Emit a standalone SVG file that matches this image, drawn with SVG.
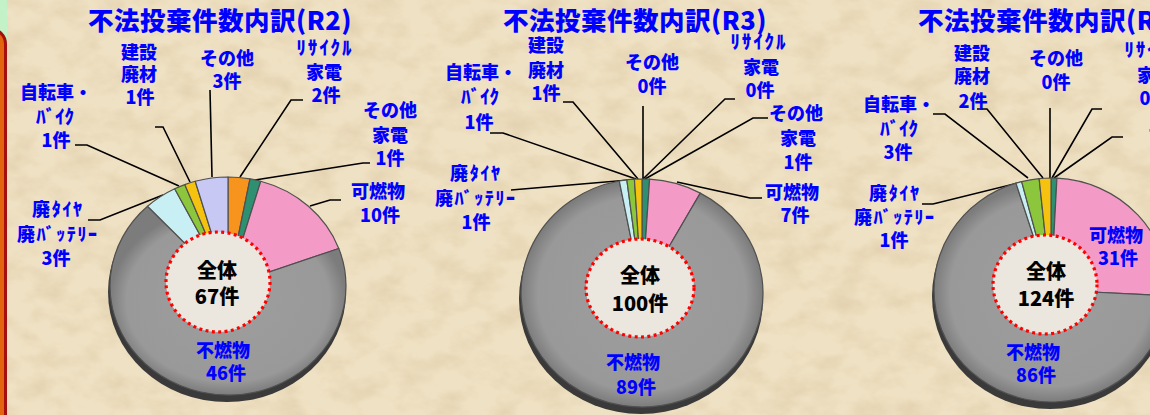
<svg xmlns="http://www.w3.org/2000/svg" width="1150" height="415" viewBox="0 0 1150 415">
<defs>
<style>
.lbl{font-family:'Noto Sans CJK JP','Noto Sans',sans-serif;font-size:18px;font-weight:900;fill:#0000ff;text-anchor:middle}
.kt{font-size:19px}
.ttl{font-family:'Noto Sans CJK JP','Noto Sans',sans-serif;font-size:25.5px;font-weight:900;fill:#0000ff;letter-spacing:0.5px}
.ctr{font-family:'Noto Sans CJK JP','Noto Sans',sans-serif;font-size:20px;font-weight:900;fill:#000;text-anchor:middle}
.sl{stroke:#505050;stroke-width:1.2;stroke-linejoin:round}
.conn polyline{fill:none;stroke:#000;stroke-width:1.6}
.hole{fill:#ebe6de;stroke:#ff0000;stroke-width:3.2;stroke-dasharray:3 3.4}
.shadow{fill:#3a3a3a}
.c-or{fill:#f7941d}.c-te{fill:#2e9070}.c-pk{fill:#f49ac6}.c-gr{fill:url(#greyg)}
.c-cy{fill:#c8f0f4}.c-gn{fill:#8cc63c}.c-ye{fill:#f5c20f}.c-lv{fill:#c8c8f4}
</style>
<radialGradient id="greyg" cx="0.5" cy="0.5" r="0.5">
<stop offset="0" stop-color="#9e9e9e"/><stop offset="0.86" stop-color="#999"/><stop offset="1" stop-color="#7c7c7c"/>
</radialGradient>
<filter id="paper" x="0" y="0" width="100%" height="100%">
<feTurbulence type="fractalNoise" baseFrequency="0.03 0.045" numOctaves="4" seed="7"/>
<feColorMatrix type="matrix" values="0 0 0 0 0.62  0 0 0 0 0.48  0 0 0 0 0.28  0.75 0 0 0 -0.3"/>
</filter>
</defs>

<g id="background">
<rect x="0" y="0" width="1150" height="415" fill="#efe1c3"/>
<rect x="0" y="0" width="1150" height="415" filter="url(#paper)"/>
<rect x="0" y="0" width="7" height="60" fill="#c4f2c8"/>
<rect x="-30" y="29" width="35.5" height="420" rx="15" fill="#e2640e" stroke="#a60f0f" stroke-width="3"/>
</g>

<g id="titles">
<text class="ttl" x="88" y="30">不法投棄件数内訳(R2)</text>
<text class="ttl" x="503" y="30">不法投棄件数内訳(R3)</text>
<text class="ttl" x="918" y="30">不法投棄件数内訳(R</text>
</g>

<g id="connectors" class="conn">
<polyline points="75,145 87,145 179,186"/>
<polyline points="155,127 163,127 190,182"/>
<polyline points="210,90 212,177"/>
<polyline points="303,100 291,100 240,177"/>
<polyline points="370,163 363,163 255,180"/>
<polyline points="341,200 330,200 310,206"/>
<polyline points="88,220 100,220 163,195"/>

<polyline points="490,133 503,133 636,179"/>
<polyline points="563,102 573,102 638,179"/>
<polyline points="643,106 643,179"/>
<polyline points="735,99 725,99 643,179"/>
<polyline points="768,118 753,118 645,179"/>
<polyline points="762,198 750,198 677,182"/>
<polyline points="511,190 629,180"/>

<polyline points="933,114 945,114 1028,178"/>
<polyline points="977,109 987,109 1043,178"/>
<polyline points="1050,108 1050,178"/>
<polyline points="1102,109 1092,109 1052,178"/>
<polyline points="1123,137 1112,137 1054,178"/>
<polyline points="922,204 933,204 1022,182"/>
</g>

<g id="pie-r2">
<ellipse class="shadow" cx="227" cy="292" rx="119" ry="110"/>
<path class="sl c-or" d="M228,286 L228,177 A118,109 0 0 1 250,178.91 Z"/>
<path class="sl c-te" d="M228,286 L250,178.91 A118,109 0 0 1 260.76,181.29 Z"/>
<path class="sl c-pk" d="M228,286 L260.76,181.29 A118,109 0 0 1 338.78,248.45 Z"/>
<path class="sl c-gr" d="M228,286 L338.78,248.45 A118,109 0 1 1 147.54,206.27 Z"/>
<path class="sl c-cy" d="M228,286 L147.54,206.27 A118,109 0 0 1 174.68,188.76 Z"/>
<path class="sl c-gn" d="M228,286 L174.68,188.76 A118,109 0 0 1 184.77,184.58 Z"/>
<path class="sl c-ye" d="M228,286 L184.77,184.58 A118,109 0 0 1 195.24,181.29 Z"/>
<path class="sl c-lv" d="M228,286 L195.24,181.29 A118,109 0 0 1 228,177 Z"/>
<ellipse class="hole" cx="218" cy="282" rx="52" ry="50"/>
<text class="ctr" x="217" y="278">全体</text>
<text class="ctr" x="217" y="304">67件</text>
</g>

<g id="pie-r3">
<ellipse class="shadow" cx="641" cy="299" rx="122" ry="115"/>
<path class="sl c-te" d="M642,293 L642,179 A121,114 0 0 1 649.6,179.22 Z"/>
<path class="sl c-pk" d="M642,293 L649.6,179.22 A121,114 0 0 1 700.29,193.1 Z"/>
<path class="sl c-gr" d="M642,293 L700.29,193.1 A121,114 0 1 1 619.33,181.02 Z"/>
<path class="sl c-cy" d="M642,293 L619.33,181.02 A121,114 0 0 1 626.84,179.9 Z"/>
<path class="sl c-gn" d="M642,293 L626.84,179.9 A121,114 0 0 1 634.4,179.22 Z"/>
<path class="sl c-ye" d="M642,293 L634.4,179.22 A121,114 0 0 1 642,179 Z"/>
<ellipse class="hole" cx="640" cy="288" rx="54" ry="49"/>
<text class="ctr" x="640" y="283">全体</text>
<text class="ctr" x="640" y="311">100件</text>
</g>

<g id="pie-r4">
<ellipse class="shadow" cx="1050" cy="296" rx="118" ry="113"/>
<path class="sl c-te" d="M1051,290 L1051,178 A117,112 0 0 1 1056.93,178.14 Z"/>
<path class="sl c-pk" d="M1051,290 L1056.93,178.14 A117,112 0 0 1 1167.85,295.67 Z"/>
<path class="sl c-gr" d="M1051,290 L1167.85,295.67 A117,112 0 1 1 1015.97,183.14 Z"/>
<path class="sl c-cy" d="M1051,290 L1015.97,183.14 A117,112 0 0 1 1021.67,181.58 Z"/>
<path class="sl c-gn" d="M1051,290 L1021.67,181.58 A117,112 0 0 1 1039.16,178.57 Z"/>
<path class="sl c-ye" d="M1051,290 L1039.16,178.57 A117,112 0 0 1 1051,178 Z"/>
<ellipse class="hole" cx="1045" cy="284.5" rx="52" ry="49.5"/>
<text class="ctr" x="1046" y="279">全体</text>
<text class="ctr" x="1046" y="306">124件</text>
</g>

<g id="r2-bike"><text class="lbl" x="56" y="99">自転車・</text><text class="lbl kt" x="55" y="124">ﾊﾞｲｸ</text><text class="lbl" x="56" y="147">1件</text></g>
<g id="r2-construction"><text class="lbl" x="139" y="59">建設</text><text class="lbl" x="139" y="81">廃材</text><text class="lbl" x="140" y="104">1件</text></g>
<g id="r2-other"><text class="lbl" x="227" y="65">その他</text><text class="lbl" x="227" y="88">3件</text></g>
<g id="r2-recycle"><text class="lbl kt" x="324" y="55" textLength="55">ﾘｻｲｸﾙ</text><text class="lbl" x="324" y="79">家電</text><text class="lbl" x="326" y="102">2件</text></g>
<g id="r2-otherappliance"><text class="lbl" x="390" y="117">その他</text><text class="lbl" x="390" y="142">家電</text><text class="lbl" x="390" y="165">1件</text></g>
<g id="r2-burnable"><text class="lbl" x="378" y="198">可燃物</text><text class="lbl" x="380" y="222">10件</text></g>
<g id="r2-tire"><text class="lbl" x="57" y="216" textLength="50">廃ﾀｲﾔ</text><text class="lbl" x="57" y="241" textLength="80">廃ﾊﾞｯﾃﾘｰ</text><text class="lbl" x="56" y="265">3件</text></g>
<g id="r2-nonburnable"><text class="lbl" x="223" y="357">不燃物</text><text class="lbl" x="226" y="380">46件</text></g>

<g id="r3-bike"><text class="lbl" x="481" y="79">自転車・</text><text class="lbl kt" x="480" y="104">ﾊﾞｲｸ</text><text class="lbl" x="479" y="129">1件</text></g>
<g id="r3-construction"><text class="lbl" x="546" y="52">建設</text><text class="lbl" x="546" y="77">廃材</text><text class="lbl" x="546" y="100">1件</text></g>
<g id="r3-other"><text class="lbl" x="652" y="69">その他</text><text class="lbl" x="652" y="93">0件</text></g>
<g id="r3-recycle"><text class="lbl kt" x="758" y="49" textLength="55">ﾘｻｲｸﾙ</text><text class="lbl" x="761" y="74">家電</text><text class="lbl" x="760" y="97">0件</text></g>
<g id="r3-otherappliance"><text class="lbl" x="796" y="120">その他</text><text class="lbl" x="798" y="145">家電</text><text class="lbl" x="798" y="169">1件</text></g>
<g id="r3-burnable"><text class="lbl" x="792" y="199">可燃物</text><text class="lbl" x="795" y="222">7件</text></g>
<g id="r3-tire"><text class="lbl" x="475" y="180" textLength="50">廃ﾀｲﾔ</text><text class="lbl" x="475" y="205" textLength="80">廃ﾊﾞｯﾃﾘｰ</text><text class="lbl" x="476" y="229">1件</text></g>
<g id="r3-nonburnable"><text class="lbl" x="633" y="369">不燃物</text><text class="lbl" x="636" y="394">89件</text></g>

<g id="r4-bike"><text class="lbl" x="899" y="111">自転車・</text><text class="lbl kt" x="899" y="136">ﾊﾞｲｸ</text><text class="lbl" x="898" y="159">3件</text></g>
<g id="r4-construction"><text class="lbl" x="972" y="60">建設</text><text class="lbl" x="972" y="83">廃材</text><text class="lbl" x="973" y="108">2件</text></g>
<g id="r4-other"><text class="lbl" x="1056" y="65">その他</text><text class="lbl" x="1056" y="89">0件</text></g>
<g id="r4-recycle"><text class="lbl kt" x="1152" y="57" textLength="55">ﾘｻｲｸﾙ</text><text class="lbl" x="1155" y="82">家電</text><text class="lbl" x="1154" y="105">0件</text></g>
<g id="r4-otherappliance"><text class="lbl" x="1175" y="137">その他</text><text class="lbl" x="1178" y="162">家電</text><text class="lbl" x="1178" y="186">1件</text></g>
<g id="r4-burnable"><text class="lbl" x="1116" y="242">可燃物</text><text class="lbl" x="1118" y="265">31件</text></g>
<g id="r4-tire"><text class="lbl" x="894" y="200" textLength="50">廃ﾀｲﾔ</text><text class="lbl" x="894" y="224" textLength="80">廃ﾊﾞｯﾃﾘｰ</text><text class="lbl" x="894" y="247">1件</text></g>
<g id="r4-nonburnable"><text class="lbl" x="1033" y="359">不燃物</text><text class="lbl" x="1036" y="382">86件</text></g>
</svg>
